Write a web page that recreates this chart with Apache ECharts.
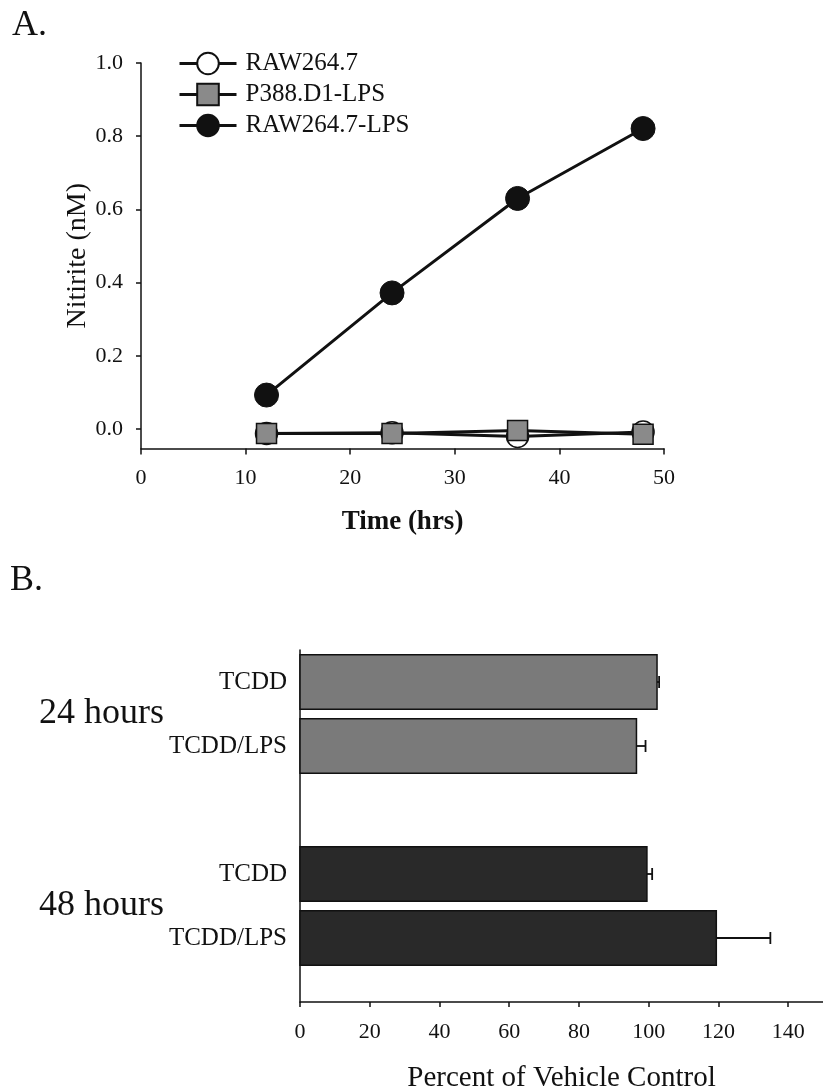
<!DOCTYPE html>
<html>
<head>
<meta charset="utf-8">
<script src="https://cdn.jsdelivr.net/npm/echarts@6/dist/echarts.min.js"></script>
<style>
html,body{margin:0;padding:0;background:#fff;}
#c{width:823px;height:1092px;}
</style>
</head>
<body>
<div id="c"></div>
<script>
// ---------- Panel A data ----------
const timeHrs = [12, 24, 36, 48];
const raw264 = [-0.012, -0.010, -0.020, -0.008];
const p388LPS = [-0.012, -0.012, -0.004, -0.014];
const raw264LPS = [0.093, 0.372, 0.630, 0.821];
const seriesNamesA = ['RAW264.7', 'P388.D1-LPS', 'RAW264.7-LPS'];
const yTicksA = [0, 0.2, 0.4, 0.6, 0.8, 1.0];

// ---------- Panel B data ----------
const groupsB = ['24 hours', '48 hours'];
const treatmentsB = ['TCDD', 'TCDD/LPS'];
const valuesB = [[102.4, 96.5], [99.5, 119.4]];   // mean % of vehicle control
const errorsB = [[0.6, 2.6], [1.5, 15.5]];        // SE (positive side)
const xTicksB = [0, 20, 40, 60, 80, 100, 120, 140];

const FONT = 'Liberation Serif';
const groupFill = ['#7a7a7a', '#292929'];

// build bar rows: position index from group/treatment structure
const barRows = [];
const treatLabelPos = [];
const treatLabelText = {};
const groupLabelPos = [];
groupsB.forEach((g, gi) => {
  treatmentsB.forEach((t, ti) => {
    const pos = gi * (treatmentsB.length + 1) + ti;
    barRows.push([valuesB[gi][ti], pos, errorsB[gi][ti], gi]);
    treatLabelPos.push(pos);
    treatLabelText[pos] = t;
  });
  groupLabelPos.push(gi * (treatmentsB.length + 1) + (treatmentsB.length - 1) / 2);
});

const chart = echarts.init(document.getElementById('c'), null, {renderer: 'canvas'});

const axisLine = {show: true, onZero: false, lineStyle: {color: '#111', width: 1.5}};
const axisLabelStyle = {color: '#111', fontFamily: FONT, fontSize: 22};

const option = {
  backgroundColor: '#fff',
  animation: false,
  textStyle: {fontFamily: FONT},
  graphic: [
    {type: 'text', left: 12, top: 8, style: {text: 'A.', font: '36px "Liberation Serif"', fill: '#111'}},
    {type: 'text', left: 10, top: 563, style: {text: 'B.', font: '36px "Liberation Serif"', fill: '#111'}}
  ],
  legend: {
    orient: 'vertical',
    left: 173,
    top: 46,
    itemWidth: 57,
    itemHeight: 27,
    itemGap: 6,
    data: seriesNamesA,
    lineStyle: {width: 3, color: '#111'},
    textStyle: {fontFamily: FONT, fontSize: 25, color: '#111', padding: [0, 0, 0, 4]}
  },
  grid: [
    {left: 141, top: 63, width: 523, height: 385.5, outerBoundsMode: 'none', containLabel: false},
    {left: 300, top: 650, width: 523, height: 352, outerBoundsMode: 'none', containLabel: false}
  ],
  xAxis: [
    {
      gridIndex: 0, type: 'value', min: 0, max: 50, interval: 10,
      name: 'Time (hrs)', nameLocation: 'middle', nameGap: 60, nameMoveOverlap: false,
      nameTextStyle: {fontFamily: FONT, fontSize: 27, fontWeight: 'bold', color: '#111'},
      axisLine: axisLine,
      axisTick: {show: true, inside: false, length: 6, lineStyle: {color: '#111', width: 1.5}},
      axisLabel: Object.assign({margin: 19}, axisLabelStyle),
      splitLine: {show: false}
    },
    {
      gridIndex: 1, type: 'value', min: 0, max: 150,
      name: 'Percent of Vehicle Control', nameLocation: 'middle', nameGap: 62, nameMoveOverlap: false,
      nameTextStyle: {fontFamily: FONT, fontSize: 29, color: '#111'},
      axisLine: axisLine,
      axisTick: {show: true, inside: false, length: 5, customValues: xTicksB, lineStyle: {color: '#111', width: 1.5}},
      axisLabel: Object.assign({margin: 19, customValues: xTicksB}, axisLabelStyle),
      splitLine: {show: false}
    }
  ],
  yAxis: [
    {
      gridIndex: 0, type: 'value', min: -0.053, max: 1.0,
      name: 'Nitirite (nM)', nameLocation: 'middle', nameGap: 49, nameRotate: 90, nameMoveOverlap: false,
      nameTextStyle: {fontFamily: FONT, fontSize: 28, color: '#111'},
      axisLine: axisLine,
      axisTick: {show: true, inside: false, length: 5, customValues: yTicksA, lineStyle: {color: '#111', width: 1.5}},
      axisLabel: Object.assign({margin: 18, customValues: yTicksA, formatter: v => v.toFixed(1)}, axisLabelStyle),
      splitLine: {show: false}
    },
    {
      gridIndex: 1, type: 'value', min: -0.5, max: 5.0, inverse: true,
      axisLine: axisLine,
      axisTick: {show: false},
      axisLabel: {
        margin: 13, customValues: treatLabelPos,
        formatter: v => treatLabelText[Math.round(v)] || '',
        color: '#111', fontFamily: FONT, fontSize: 25
      },
      splitLine: {show: false}
    },
    {
      gridIndex: 1, type: 'value', min: -0.5, max: 5.0, inverse: true, position: 'left',
      axisLine: {show: false}, axisTick: {show: false},
      axisLabel: {
        margin: 136, customValues: groupLabelPos,
        formatter: v => groupsB[Math.round((v - 0.5) / (treatmentsB.length + 1))] || '',
        color: '#111', fontFamily: FONT, fontSize: 36, padding: [0, 0, 24, 0]
      },
      splitLine: {show: false}
    }
  ],
  series: [
    {
      name: seriesNamesA[0], type: 'line', xAxisIndex: 0, yAxisIndex: 0,
      data: timeHrs.map((t, i) => [t, raw264[i]]),
      symbol: 'circle', symbolSize: 22,
      lineStyle: {color: '#111', width: 3},
      itemStyle: {color: '#ffffff', borderColor: '#111', borderWidth: 1.5},
      z: 2
    },
    {
      name: seriesNamesA[1], type: 'line', xAxisIndex: 0, yAxisIndex: 0,
      data: timeHrs.map((t, i) => [t, p388LPS[i]]),
      symbol: 'rect', symbolSize: 20,
      lineStyle: {color: '#111', width: 3},
      itemStyle: {color: '#8a8a8a', borderColor: '#111', borderWidth: 1.5},
      z: 3
    },
    {
      name: seriesNamesA[2], type: 'line', xAxisIndex: 0, yAxisIndex: 0,
      data: timeHrs.map((t, i) => [t, raw264LPS[i]]),
      symbol: 'circle', symbolSize: 24,
      lineStyle: {color: '#111', width: 3},
      itemStyle: {color: '#111111', borderColor: '#111', borderWidth: 1},
      z: 4
    },
    {
      type: 'custom', xAxisIndex: 1, yAxisIndex: 1,
      data: barRows,
      encode: {x: 0, y: 1},
      renderItem: function (params, api) {
        const val = api.value(0), pos = api.value(1), gi = api.value(3);
        const s = api.coord([0, pos]);
        const e = api.coord([val, pos]);
        const h = api.size([0, 1])[1] * 0.85;
        return {
          type: 'rect',
          shape: {x: s[0], y: s[1] - h / 2, width: e[0] - s[0], height: h},
          style: {fill: groupFill[gi], stroke: '#111', lineWidth: 1.5}
        };
      },
      z: 2
    },
    {
      type: 'custom', xAxisIndex: 1, yAxisIndex: 1,
      data: barRows,
      encode: {x: 0, y: 1},
      renderItem: function (params, api) {
        const val = api.value(0), pos = api.value(1), err = api.value(2);
        const a = api.coord([val, pos]);
        const b = api.coord([val + err, pos]);
        const cap = 6;
        return {
          type: 'group',
          children: [
            {type: 'line', shape: {x1: a[0], y1: a[1], x2: b[0], y2: b[1]}, style: {stroke: '#111', lineWidth: 1.8}},
            {type: 'line', shape: {x1: b[0], y1: b[1] - cap, x2: b[0], y2: b[1] + cap}, style: {stroke: '#111', lineWidth: 1.8}}
          ]
        };
      },
      z: 3
    }
  ]
};
chart.setOption(option);
</script>
</body>
</html>
